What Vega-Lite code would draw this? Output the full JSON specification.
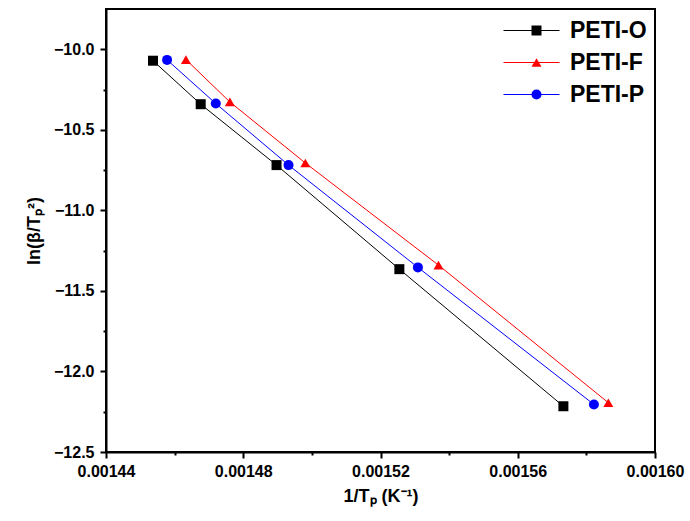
{
  "$schema": "https://vega.github.io/schema/vega-lite/v6.json",
  "autosize": {"type": "none"},
  "padding": {"left": 106, "top": 9, "right": 35, "bottom": 69},
  "width": 549,
  "height": 443,
  "background": "white",
  "config": {
    "font": "Liberation Sans",
    "view": {"stroke": "black", "strokeWidth": 2},
    "legend": {
      "labelFont": "Liberation Sans",
      "labelFontSize": 23,
      "labelFontWeight": "bold",
      "labelColor": "black",
      "padding": 0,
      "rowPadding": 8
    },
    "axis": {
      "grid": false,
      "domainColor": "black",
      "domainWidth": 2,
      "tickColor": "black",
      "tickWidth": 2,
      "labelFont": "Liberation Sans",
      "labelFontSize": 16,
      "labelFontWeight": "bold",
      "labelColor": "black",
      "titleFont": "Liberation Sans",
      "titleFontSize": 18,
      "titleFontWeight": "bold",
      "titleColor": "black",
      "labelOverlap": false,
      "labelFlush": false
    }
  },
  "data": {
    "values": [
      {"series": "PETI-O", "x": 0.0014537, "y": -10.071},
      {"series": "PETI-O", "x": 0.0014676, "y": -10.341},
      {"series": "PETI-O", "x": 0.0014897, "y": -10.719},
      {"series": "PETI-O", "x": 0.0015255, "y": -11.365},
      {"series": "PETI-O", "x": 0.0015733, "y": -12.216},
      {"series": "PETI-F", "x": 0.0014633, "y": -10.064},
      {"series": "PETI-F", "x": 0.0014761, "y": -10.327},
      {"series": "PETI-F", "x": 0.0014981, "y": -10.706},
      {"series": "PETI-F", "x": 0.0015369, "y": -11.34},
      {"series": "PETI-F", "x": 0.0015864, "y": -12.194},
      {"series": "PETI-P", "x": 0.0014578, "y": -10.066},
      {"series": "PETI-P", "x": 0.001472, "y": -10.337},
      {"series": "PETI-P", "x": 0.0014932, "y": -10.719},
      {"series": "PETI-P", "x": 0.0015309, "y": -11.354},
      {"series": "PETI-P", "x": 0.0015822, "y": -12.205}
    ]
  },
  "encoding": {
    "x": {
      "field": "x",
      "type": "quantitative",
      "scale": {"domain": [0.00144, 0.0016], "nice": false, "zero": false},
      "axis": {
        "title": "1/Tₚ (K⁻¹)",
        "values": [0.00144, 0.00146, 0.00148, 0.0015, 0.00152, 0.00154, 0.00156, 0.00158, 0.0016],
        "labelExpr": "round(datum.value*100000) % 4 == 0 ? format(datum.value, '.5f') : ''",
        "tickSize": {"condition": {"test": "round(datum.value*100000) % 4 == 0", "value": 6}, "value": 3},
        "labelPadding": 5,
        "titlePadding": 8
      }
    },
    "y": {
      "field": "y",
      "type": "quantitative",
      "scale": {"domain": [-12.5, -9.75], "nice": false, "zero": false},
      "axis": {
        "title": "ln(β/Tₚ²)",
        "values": [-12.5, -12.25, -12, -11.75, -11.5, -11.25, -11, -10.75, -10.5, -10.25, -10],
        "labelExpr": "round(datum.value*4) % 2 == 0 ? format(datum.value, '.1f') : ''",
        "tickSize": {"condition": {"test": "round(datum.value*4) % 2 == 0", "value": 6}, "value": 3},
        "labelPadding": 6,
        "titlePadding": 10
      }
    }
  },
  "layer": [
    {
      "mark": {"type": "line", "strokeWidth": 1},
      "encoding": {
        "color": {
          "field": "series",
          "type": "nominal",
          "scale": {"domain": ["PETI-O", "PETI-F", "PETI-P"], "range": ["#000000", "#ff0000", "#0000ff"]},
          "legend": {
            "title": null,
            "orient": "none",
            "legendX": 414,
            "legendY": 10,
            "symbolType": "M-2.8,0H2.8",
            "symbolSize": 400,
            "symbolStrokeWidth": 1,
            "labelOffset": 27
          }
        }
      }
    },
    {
      "mark": {"type": "point", "filled": true, "opacity": 1, "size": 100},
      "encoding": {
        "color": {
          "field": "series",
          "type": "nominal",
          "scale": {"domain": ["PETI-O", "PETI-F", "PETI-P"], "range": ["#000000", "#ff0000", "#0000ff"]},
          "legend": {
            "title": null,
            "orient": "none",
            "legendX": 419,
            "legendY": 10,
            "symbolSize": 100,
            "symbolOpacity": 1,
            "labelOffset": 32,
            "labelExpr": "''"
          }
        },
        "shape": {
          "field": "series",
          "type": "nominal",
          "scale": {"domain": ["PETI-O", "PETI-F", "PETI-P"], "range": ["square", "triangle-up", "circle"]},
          "legend": {
            "title": null,
            "orient": "none",
            "legendX": 419,
            "legendY": 10,
            "symbolSize": 100,
            "symbolOpacity": 1,
            "labelOffset": 32,
            "labelExpr": "''"
          }
        }
      }
    }
  ],
  "resolve": {"legend": {"color": "independent", "shape": "independent"}}
}
